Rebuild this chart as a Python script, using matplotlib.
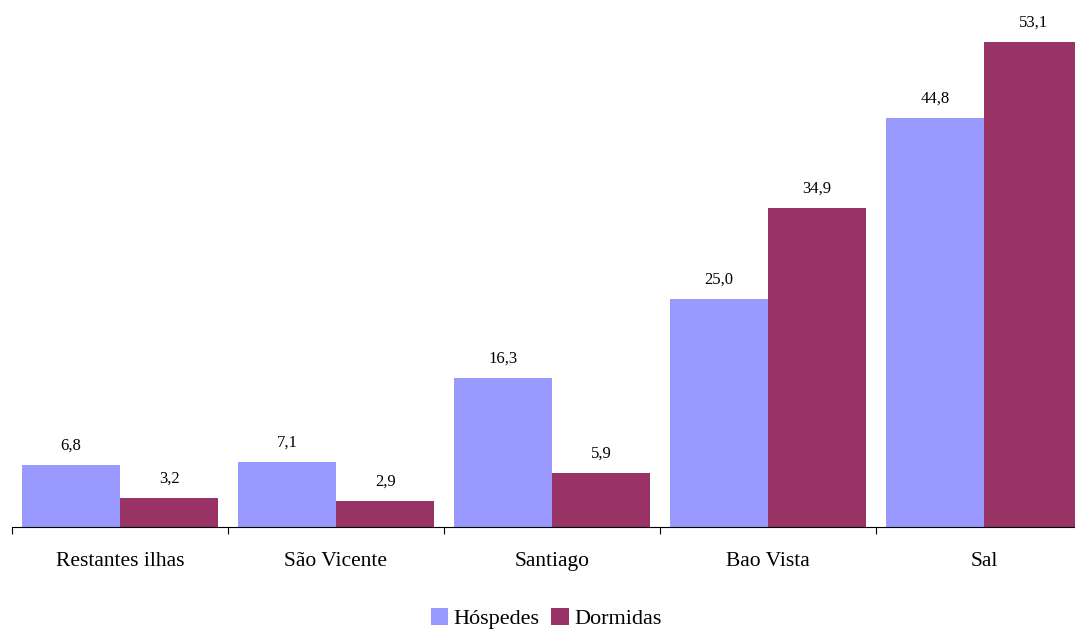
import numpy as np
from matplotlib import pyplot as plt

plt.rcParams['font.family'] = ['Liberation Serif', 'DejaVu Serif']

categorias = ['Restantes ilhas', 'São Vicente', 'Santiago', 'Bao Vista', 'Sal']
hospedes = [6.8, 7.1, 16.3, 25.0, 44.8]
dormidas = [3.2, 2.9, 5.9, 34.9, 53.1]

cor_hosp = '#9999FF'
cor_dorm = '#993366'

fig = plt.figure()
fig.set_size_inches(10.75, 6.35)
ax = fig.add_axes([12/1075, 108/635, 1080/1075, 527/635])

x = np.arange(len(categorias))
w = 0.455
b1 = ax.bar(x - w/2, hospedes, w, color=cor_hosp, label='Hóspedes')
b2 = ax.bar(x + w/2, dormidas, w, color=cor_dorm, label='Dormidas')

for bars, vals in [(b1, hospedes), (b2, dormidas)]:
    for b, v in zip(bars, vals):
        ax.annotate(('%.1f' % v).replace('.', ','), (b.get_x() + b.get_width()/2, v),
                    xytext=(0, 8), textcoords='offset points', ha='center', va='bottom',
                    fontsize=12)

ax.set_xlim(-0.5, 4.5)
ax.set_ylim(0, 527/9.134)
for s in ['top', 'right', 'left']:
    ax.spines[s].set_visible(False)
ax.spines['bottom'].set_linewidth(0.8)
ax.set_yticks([])
ax.set_xticks(x)
ax.set_xticklabels(categorias, fontsize=15.5)
ax.set_xticks(np.arange(-0.5, 5, 1), minor=True)
ax.tick_params(axis='x', which='major', length=0, pad=18)
ax.tick_params(axis='x', which='minor', length=5, width=0.8, direction='out')

fig.legend(handles=[b1, b2], loc='lower center', bbox_to_anchor=(0.508, -0.022), ncol=2,
           frameon=False, fontsize=16, handlelength=0.8, handleheight=0.8,
           handletextpad=0.25, columnspacing=0.5)

fig.savefig('out.png', dpi=100)
